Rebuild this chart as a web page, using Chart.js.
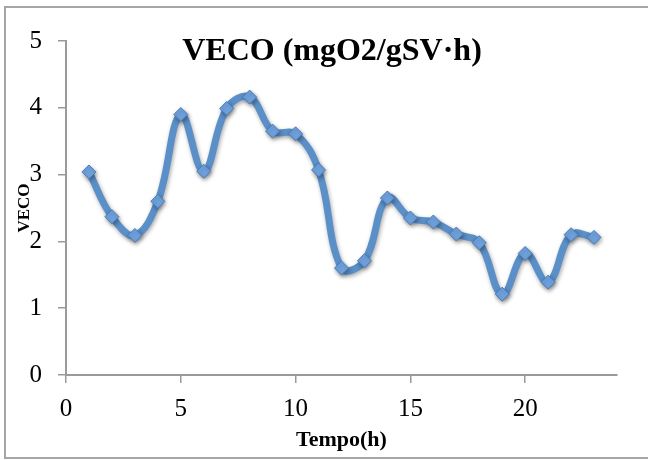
<!DOCTYPE html>
<html>
<head>
<meta charset="utf-8">
<title>VECO</title>
<script src="https://cdn.jsdelivr.net/npm/chart.js@4.4.1/dist/chart.umd.min.js"></script>
<style>
  html, body { margin: 0; padding: 0; background: #fff; }
  #wrap { width: 648px; height: 460px; position: relative; }
</style>
</head>
<body>
<div id="wrap"><canvas id="chart"></canvas></div>
<script>
// tempo (h) and VECO values
const tempo = [1, 2, 3, 4, 5, 6, 7, 8, 9, 10, 11, 12, 13, 14, 15, 16, 17, 18, 19, 20, 21, 22, 23];
const veco = [3.04, 2.37, 2.09, 2.60, 3.90, 3.05, 3.99, 4.16, 3.65, 3.61, 3.07, 1.60,
              1.71, 2.65, 2.35, 2.29, 2.11, 1.98, 1.21, 1.82, 1.39, 2.10, 2.06];
const chartTitle = 'VECO (mgO2/gSV·h)';
const xTitle = 'Tempo(h)';
const yTitle = 'VECO';

const serif = '"Liberation Serif", "DejaVu Serif", serif';
const axisGrey = '#9a9a9a';

// frame + title drawn over the plot like the spreadsheet does
const decor = {
  id: 'decor',
  beforeDraw(chart) {
    const ctx = chart.ctx;
    ctx.save();
    ctx.fillStyle = '#fff';
    ctx.fillRect(0, 0, chart.width, chart.height);
    ctx.strokeStyle = '#a6a6a6';
    ctx.lineWidth = 2;
    ctx.beginPath();
    ctx.moveTo(700, 7);
    ctx.lineTo(5, 7);
    ctx.lineTo(5, 458);
    ctx.lineTo(700, 458);
    ctx.stroke();
    ctx.restore();
  },
  afterDraw(chart) {
    const ctx = chart.ctx;
    ctx.save();
    ctx.fillStyle = '#000';
    ctx.font = 'bold 32px ' + serif;
    ctx.textAlign = 'center';
    ctx.textBaseline = 'middle';
    ctx.fillText(chartTitle, 332, 52);
    ctx.restore();
  },
  beforeDatasetDraw(chart) {
    const ctx = chart.ctx;
    ctx.save();
    ctx.shadowColor = 'rgba(0,0,0,0.35)';
    ctx.shadowBlur = 4;
    ctx.shadowOffsetX = 1;
    ctx.shadowOffsetY = 2;
  },
  afterDatasetDraw(chart) {
    chart.ctx.restore();
  }
};

new Chart(document.getElementById('chart'), {
  type: 'line',
  data: {
    datasets: [{
      data: tempo.map((t, i) => ({ x: t, y: veco[i] })),
      borderColor: '#5a8fc8',
      borderWidth: 7,
      tension: 0.4,
      pointStyle: 'rectRot',
      pointRadius: 7,
      pointBackgroundColor: '#6fa2de',
      pointBorderColor: '#4a7dba',
      pointBorderWidth: 1,
      fill: false
    }]
  },
  options: {
    responsive: true,
    maintainAspectRatio: false,
    animation: false,
    layout: { padding: { left: 0, right: 31, top: 41, bottom: 0 } },
    plugins: {
      legend: { display: false },
      tooltip: { enabled: false }
    },
    scales: {
      x: {
        type: 'linear',
        min: 0,
        max: 24,
        afterFit(scale) { scale.height = 85; },
        ticks: {
          stepSize: 5,
          includeBounds: false,
          padding: 11,
          color: '#000',
          font: { family: serif, size: 25 }
        },
        grid: { display: true, drawOnChartArea: false, drawTicks: true, tickLength: 8, color: axisGrey, lineWidth: 1.5 },
        border: { display: true, color: axisGrey, width: 2 },
        title: {
          display: true,
          text: xTitle,
          color: '#000',
          font: { family: serif, size: 22, weight: 'bold' },
          padding: { top: 0, bottom: 6 }
        }
      },
      y: {
        min: 0,
        max: 5,
        afterFit(scale) { scale.width = 66; },
        ticks: {
          stepSize: 1,
          padding: 16,
          color: '#000',
          font: { family: serif, size: 25 }
        },
        grid: { display: true, drawOnChartArea: false, drawTicks: true, tickLength: 8, color: axisGrey, lineWidth: 1.5 },
        border: { display: true, color: axisGrey, width: 2 },
        title: {
          display: true,
          text: yTitle,
          color: '#000',
          font: { family: serif, size: 17, weight: 'bold' },
          padding: { top: 14, bottom: 0 }
        }
      }
    }
  },
  plugins: [decor]
});
</script>
</body>
</html>
